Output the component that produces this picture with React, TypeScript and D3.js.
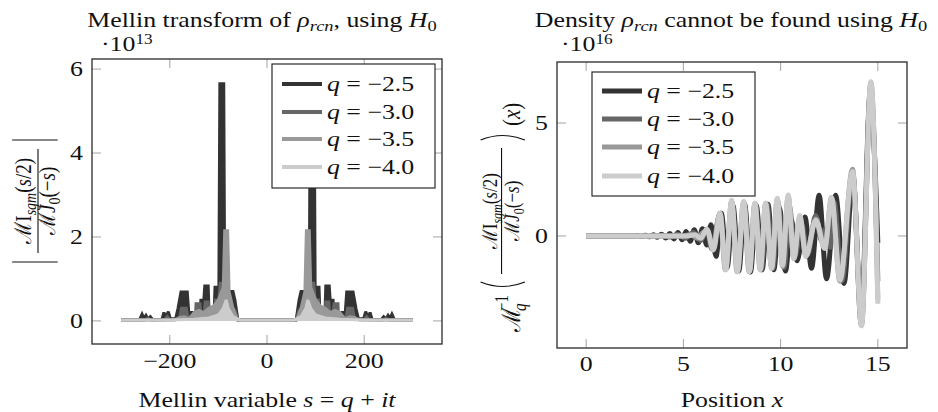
import React from 'react';
import * as d3 from 'd3';

// ---------- data ----------
const legendValues = ['−2.5', '−3.0', '−3.5', '−4.0'];
const seriesColors = ['#333333', '#666666', '#999999', '#cccccc'];

const mellinXTicks = [-200, 0, 200];
const mellinYTicks = [0, 2, 4, 6];
const densityXTicks = [0, 5, 10, 15];
const densityYTicks = [0, 5];

type P = [number, number];

// |M I_sgm(s/2) / M J_0(-s)|  (units of 1e13), t along s = q + it
const mellinQ25: P[] = [
  [-300, 0.03], [-262, 0.03], [-257, 0.16], [-253, 0.06], [-249, 0.13], [-245, 0.05], [-240, 0.1], [-235, 0.03],
  [-216, 0.04], [-212, 0.2], [-208, 0.08], [-203, 0.22], [-199, 0.06], [-188, 0.05], [-183, 0.3], [-177, 0.69],
  [-164, 0.69], [-161, 0.2], [-151, 0.2], [-148, 0.12], [-137, 0.2], [-136, 0.49], [-130, 0.49], [-128, 0.83],
  [-121, 0.83], [-119, 0.12], [-109, 0.1], [-107, 0.8], [-99, 0.8], [-97, 5.65], [-89, 5.65], [-87, 0.62],
  [-78, 0.62], [-76, 0.7], [-70, 0.7], [-66, 0.5], [-60, 0.03],
  [60, 0.03], [66, 0.5], [70, 0.7], [76, 0.7], [78, 0.62], [87, 0.62], [89, 5.65], [97, 5.65], [99, 0.8],
  [107, 0.8], [109, 0.1], [119, 0.12], [121, 0.83], [128, 0.83], [130, 0.49], [136, 0.49], [137, 0.2],
  [148, 0.12], [151, 0.2], [161, 0.2], [164, 0.69], [177, 0.69], [183, 0.3], [188, 0.05], [199, 0.06],
  [203, 0.22], [208, 0.08], [212, 0.2], [216, 0.04], [235, 0.03], [240, 0.1], [245, 0.05], [249, 0.13],
  [253, 0.06], [257, 0.16], [262, 0.03], [300, 0.03],
];
const mellinQ30: P[] = [
  [-300, 0.02], [-250, 0.02], [-245, 0.06], [-240, 0.02], [-210, 0.03], [-205, 0.1], [-200, 0.03], [-180, 0.05],
  [-176, 0.3], [-166, 0.3], [-163, 0.1], [-147, 0.1], [-146, 0.41], [-138, 0.41], [-136, 0.2], [-129, 0.2],
  [-127, 0.45], [-121, 0.45], [-119, 0.08], [-108, 0.08], [-106, 0.5], [-99, 0.5], [-96, 0.9], [-88, 0.9],
  [-86, 0.6], [-77, 0.6], [-75, 0.35], [-66, 0.25], [-60, 0.02],
  [60, 0.02], [66, 0.25], [75, 0.35], [77, 0.6], [86, 0.6], [88, 0.9], [96, 0.9], [99, 0.5], [106, 0.5],
  [108, 0.08], [119, 0.08], [121, 0.45], [127, 0.45], [129, 0.2], [136, 0.2], [138, 0.41], [146, 0.41],
  [147, 0.1], [163, 0.1], [166, 0.3], [176, 0.3], [180, 0.05], [200, 0.03], [205, 0.1], [210, 0.03],
  [240, 0.02], [245, 0.06], [250, 0.02], [300, 0.02],
];
const mellinQ35: P[] = [
  [-300, 0.02], [-190, 0.02], [-180, 0.08], [-170, 0.1], [-160, 0.05], [-150, 0.2], [-140, 0.25], [-130, 0.2],
  [-120, 0.3], [-110, 0.35], [-100, 0.5], [-90, 0.8], [-87, 2.15], [-81, 2.15], [-78, 0.7], [-70, 0.3],
  [-62, 0.05], [-55, 0.02],
  [55, 0.02], [62, 0.05], [70, 0.3], [78, 0.7], [81, 2.15], [87, 2.15], [90, 0.8], [100, 0.5], [110, 0.35],
  [120, 0.3], [130, 0.2], [140, 0.25], [150, 0.2], [160, 0.05], [170, 0.1], [180, 0.08], [190, 0.02], [300, 0.02],
];
const mellinQ40: P[] = [
  [-300, 0.02], [-200, 0.02], [-150, 0.04], [-120, 0.07], [-100, 0.14], [-90, 0.3], [-84, 0.5], [-80, 0.3],
  [-70, 0.1], [-55, 0.02], [55, 0.02], [70, 0.1], [80, 0.3], [84, 0.5], [90, 0.3], [100, 0.14], [120, 0.07],
  [150, 0.04], [200, 0.02], [300, 0.02],
];

// M_q^{-1}(...)(x)  (units of 1e16), extrema
const densityQ25: P[] = [
  [0, 0], [2.4, 0], [2.62, 0.02], [2.83, -0.02], [3.04, 0.03], [3.25, -0.04], [3.46, 0.05], [3.67, -0.06],
  [3.88, 0.08], [4.09, -0.09], [4.3, 0.11], [4.51, -0.13], [4.72, 0.15], [4.93, -0.17], [5.14, 0.2],
  [5.35, -0.24], [5.56, 0.27], [5.77, -0.3], [5.98, 0.32], [6.2, -0.4], [6.42, 0.5], [6.68, -0.9], [6.95, 1.0],
  [7.25, -1.4], [7.55, 1.35], [7.85, -1.55], [8.15, 1.4], [8.45, -1.6], [8.75, 1.35], [9.05, -1.5], [9.35, 1.4],
  [9.65, -1.5], [9.95, 1.2], [10.25, -1.55], [10.55, 0.7], [10.85, -1.1], [11.25, 0.84], [11.59, -1.43],
  [11.98, 1.8], [12.36, -1.9], [12.83, 1.8], [13.26, -2.1], [13.72, 2.6], [14.15, -3.6], [14.6, 6.2], [15.0, -0.3],
];
const densityQ30: P[] = [
  [0, 0], [3.5, 0], [3.9, 0.03], [4.3, -0.05], [4.7, 0.08], [5.1, -0.1], [5.5, 0.15], [5.9, -0.2], [6.2, 0.3],
  [6.45, -0.55], [6.9, 1.0], [7.2, -1.45], [7.5, 1.45], [7.8, -1.55], [8.12, 1.45], [8.42, -1.55], [8.7, 1.4],
  [9.0, -1.5], [9.3, 1.4], [9.6, -1.45], [9.88, 1.4], [10.18, -1.4], [10.45, 1.3], [10.75, -0.9], [11.05, 0.6],
  [11.4, -0.8], [11.8, 0.9], [12.1, -0.2], [12.3, 0.3], [12.55, -0.5], [12.75, 1.5], [13.15, -2.0], [13.7, 2.8],
  [14.15, -3.9], [14.63, 6.6], [15.0, -2.0],
];
const densityQ35: P[] = [
  [0, 0], [5.0, 0], [5.4, 0.06], [5.7, -0.1], [6.0, 0.15], [6.25, 0.25], [6.5, -0.6], [6.88, 1.0], [7.16, -1.5],
  [7.48, 1.55], [7.76, -1.58], [8.1, 1.5], [8.38, -1.58], [8.68, 1.45], [8.95, -1.5], [9.23, 1.45], [9.54, -1.43],
  [9.83, 1.65], [10.1, -1.35], [10.39, 1.75], [10.68, -1.0], [10.99, 0.85], [11.3, -0.9], [11.81, 0.75],
  [12.27, -0.55], [12.62, 1.7], [13.05, -2.0], [13.7, 2.95], [14.16, -3.95], [14.64, 6.8], [15.0, -2.8],
];
const densityQ40: P[] = [
  [0, 0], [5.2, 0], [5.6, 0.05], [5.9, -0.1], [6.2, 0.3], [6.55, -0.62], [6.88, 1.0], [7.18, -1.5], [7.48, 1.58],
  [7.78, -1.58], [8.1, 1.52], [8.4, -1.58], [8.68, 1.45], [8.96, -1.5], [9.23, 1.45], [9.54, -1.43], [9.83, 1.67],
  [10.1, -1.3], [10.39, 1.81], [10.68, -1.0], [10.99, 0.9], [11.3, -0.9], [11.81, 0.7], [12.27, -0.55],
  [12.62, 1.7], [13.05, -1.95], [13.7, 2.85], [14.16, -3.98], [14.64, 6.83], [15.0, -3.0],
];

const mellinSeries = [mellinQ25, mellinQ30, mellinQ35, mellinQ40];
const densitySeries = [densityQ25, densityQ30, densityQ35, densityQ40];

// ---------- drawing ----------
const SX = 1.23; // horizontal stretch of the reference typesetting
const FONT = 'Liberation Serif, DejaVu Serif, Times New Roman, serif';

function T(props: { x: number; y: number; anchor?: string; size?: number; children: any }) {
  const { x, y, anchor = 'start', size = 21, children } = props;
  return (
    <text transform={`translate(${x},${y}) scale(${SX},1)`} textAnchor={anchor} fontSize={size} style={{ fontFamily: FONT }} fill="#111">
      {children}
    </text>
  );
}

const I = (p: { children: any; dy?: number; size?: number }) => (
  <tspan fontStyle="italic" dy={p.dy} fontSize={p.size}>{p.children}</tspan>
);

function Frame(p: {
  x: d3.ScaleLinear<number, number>; y: d3.ScaleLinear<number, number>;
  xt: number[]; yt: number[];
}) {
  const [x0, x1] = p.x.range();
  const [y0, y1] = p.y.range(); // y0 bottom, y1 top
  const L = 9;
  return (
    <g>
      {p.xt.map((t) => (
        <g key={'x' + t} stroke="#8c8c8c" strokeWidth={0.8}>
          <line x1={p.x(t)} x2={p.x(t)} y1={y0} y2={y0 - L} />
          <line x1={p.x(t)} x2={p.x(t)} y1={y1} y2={y1 + L} />
        </g>
      ))}
      {p.yt.map((t) => (
        <g key={'y' + t} stroke="#8c8c8c" strokeWidth={0.8}>
          <line x1={x0} x2={x0 + L} y1={p.y(t)} y2={p.y(t)} />
          <line x1={x1} x2={x1 - L} y1={p.y(t)} y2={p.y(t)} />
        </g>
      ))}
      <rect x={x0} y={y1} width={x1 - x0} height={y0 - y1} fill="none" stroke="#2a2a2a" strokeWidth={1.3} />
    </g>
  );
}

function Legend(p: { x: number; y: number; w: number; h: number; rowY: number[]; lw: number }) {
  return (
    <g>
      <rect x={p.x} y={p.y} width={p.w} height={p.h} fill="#fff" stroke="#2a2a2a" strokeWidth={1.2} />
      {legendValues.map((v, i) => (
        <g key={v}>
          <line x1={p.x + 10} x2={p.x + 50} y1={p.rowY[i]} y2={p.rowY[i]} stroke={seriesColors[i]} strokeWidth={p.lw} />
          <T x={p.x + 55} y={p.rowY[i] + 7}>
            <I>q</I>{' = '}{v}
          </T>
        </g>
      ))}
    </g>
  );
}

export default function App() {
  const xL = d3.scaleLinear().domain([-360, 360]).range([92, 442]);
  const yL = d3.scaleLinear().domain([-0.55, 6.24]).range([344, 59]);
  const xR = d3.scaleLinear().domain([-1.5, 16.5]).range([557, 907]);
  const yR = d3.scaleLinear().domain([-4.96, 7.7]).range([348, 62]);

  const lineL = d3.line<P>().x((d) => xL(d[0])).y((d) => yL(d[1]));
  const areaL = d3.area<P>().x((d) => xL(d[0])).y0(yL(0)).y1((d) => yL(d[1]));
  const lineR = d3.line<P>().x((d) => xR(d[0])).y((d) => yR(d[1])).curve(d3.curveMonotoneX);

  return (
    <svg width={938} height={412} style={{ position: 'absolute', left: 0, top: 0, background: '#fff' }}>
      <defs>
        <clipPath id="clipL"><rect x={92} y={59} width={350} height={285} /></clipPath>
        <clipPath id="clipR"><rect x={557} y={62} width={350} height={286} /></clipPath>
      </defs>

      {/* ---------- left panel ---------- */}
      <T x={262} y={27} anchor="middle">
        Mellin transform of <I>ρ</I><I dy={4} size={15}>rcn</I><tspan dy={-4}>, using </tspan><I>H</I>
        <tspan dy={4} fontSize={15}>0</tspan>
      </T>
      <T x={101} y={51}>
        ·10<tspan dy={-7} fontSize={14}>13</tspan>
      </T>
      <g clipPath="url(#clipL)">
        {mellinSeries.map((s, i) => (
          <g key={i}>
            <path d={areaL(s) || ''} fill={seriesColors[i]} stroke="none" />
            <path d={lineL(s) || ''} fill="none" stroke={seriesColors[i]} strokeWidth={3} strokeLinejoin="miter" strokeMiterlimit={3} />
          </g>
        ))}
      </g>
      <Frame x={xL} y={yL} xt={mellinXTicks} yt={mellinYTicks} />
      {mellinXTicks.map((t) => (
        <T key={t} x={xL(t)} y={368} anchor="middle">{t < 0 ? '−' + Math.abs(t) : String(t)}</T>
      ))}
      {mellinYTicks.map((t) => (
        <T key={t} x={83} y={yL(t) + 7} anchor="end">{String(t)}</T>
      ))}
      <T x={267} y={407} anchor="middle">
        Mellin variable <I>s</I> = <I>q</I> + <I>it</I>
      </T>
      {/* y label: |MI_sgm(s/2) / MJ_0(-s)| */}
      <g transform={`translate(38,201) scale(${SX},1) rotate(-90)`} style={{ fontFamily: FONT }} fill="#111">
        <line x1={-52} x2={52} y1={0} y2={0} stroke="#111" strokeWidth={0.9} />
        <text x={0} y={-6} textAnchor="middle" fontSize={19}>
          ℳI<I dy={4} size={14}>sgm</I><tspan dy={-4}>(</tspan><I>s</I>/2)
        </text>
        <text x={0} y={14} textAnchor="middle" fontSize={19}>
          ℳ<I>J</I><tspan dy={4} fontSize={14}>0</tspan><tspan dy={-4}>(−</tspan><I>s</I>)
        </text>
        <line x1={-61} x2={-61} y1={-21} y2={16} stroke="#111" strokeWidth={1} />
        <line x1={61} x2={61} y1={-21} y2={16} stroke="#111" strokeWidth={1} />
      </g>
      <Legend x={272} y={64} w={163} h={124} rowY={[84, 112, 139, 167]} lw={4} />

      {/* ---------- right panel ---------- */}
      <T x={731} y={27} anchor="middle">
        Density <I>ρ</I><I dy={4} size={15}>rcn</I><tspan dy={-4}> cannot be found using </tspan><I>H</I>
        <tspan dy={4} fontSize={15}>0</tspan>
      </T>
      <T x={561} y={51}>
        ·10<tspan dy={-7} fontSize={14}>16</tspan>
      </T>
      <g clipPath="url(#clipR)">
        {densitySeries.map((s, i) => (
          <path key={i} d={lineR(s) || ''} fill="none" stroke={seriesColors[i]} strokeWidth={5} strokeLinejoin="round" />
        ))}
      </g>
      <Frame x={xR} y={yR} xt={densityXTicks} yt={densityYTicks} />
      {densityXTicks.map((t) => (
        <T key={t} x={xR(t)} y={371} anchor="middle">{String(t)}</T>
      ))}
      {densityYTicks.map((t) => (
        <T key={t} x={548} y={yR(t) + 7} anchor="end">{String(t)}</T>
      ))}
      <T x={732} y={407} anchor="middle">
        Position <I>x</I>
      </T>
      {/* y label: M_q^{-1}( MI_sgm(s/2) / MJ_0(-s) )(x) */}
      <g transform={`translate(520,212) scale(${SX},1) rotate(-90)`} style={{ fontFamily: FONT }} fill="#111">
        <text x={-120} y={0} fontSize={21}>ℳ</text>
        <text x={-99} y={5} fontSize={15}><I>q</I></text>
        <text x={-99} y={-10} fontSize={15}>−1</text>
        <path d="M -70 -32 Q -79 -14 -70 4" fill="none" stroke="#111" strokeWidth={1.1} />
        <line x1={-62} x2={64} y1={-15} y2={-15} stroke="#111" strokeWidth={0.9} />
        <text x={1} y={-19} textAnchor="middle" fontSize={17}>
          ℳI<I dy={4} size={12}>sgm</I><tspan dy={-4}>(</tspan><I>s</I>/2)
        </text>
        <text x={1} y={-1} textAnchor="middle" fontSize={17}>
          ℳ<I>J</I><tspan dy={4} fontSize={12}>0</tspan><tspan dy={-4}>(−</tspan><I>s</I>)
        </text>
        <path d="M 72 -32 Q 81 -14 72 4" fill="none" stroke="#111" strokeWidth={1.1} />
        <text x={86} y={0} fontSize={21}>(<I>x</I>)</text>
      </g>
      <Legend x={592} y={72} w={163} h={124} rowY={[91, 119, 147, 176]} lw={5} />
    </svg>
  );
}
